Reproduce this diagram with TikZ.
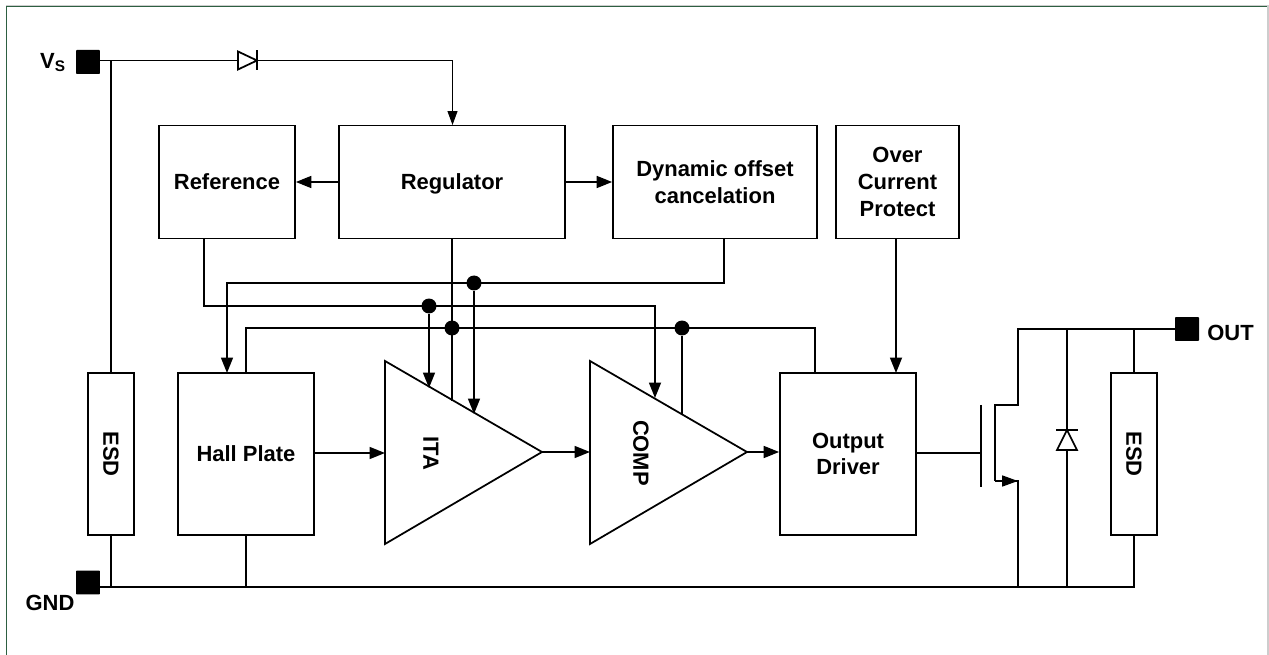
\documentclass[tikz,border=0pt]{standalone}
\usepackage{fontspec}
\setmainfont{Liberation Sans}
\usetikzlibrary{arrows.meta,positioning}
\definecolor{framegreen}{RGB}{45,95,65}
\definecolor{framegray}{RGB}{205,205,205}
\tikzset{
  wire/.style={line width=1pt},
  thinwire/.style={line width=0.6pt},
  arr/.style={-{Triangle[length=0.31cm,width=0.24cm]}},
  block/.style={draw,line width=1pt,inner sep=0pt,align=center,font=\fontsize{12.5}{15.2}\selectfont\bfseries},
  lbl/.style={inner sep=0pt,font=\fontsize{12.5}{15}\selectfont\bfseries},
  pad/.style={fill=black,rounded corners=0.5pt,minimum size=0.48cm,inner sep=0pt},
  dot/.style={circle,fill=black,minimum size=0.3cm,inner sep=0pt},
}
\begin{document}
\begin{tikzpicture}[x=0.02cm,y=-0.02cm]
  \useasboundingbox (0,0) rectangle (1269,655);
  \fill[white] (0,0) rectangle (1269,655);
  \draw[framegray,line width=0.6pt] (6,5.5) -- (1268,5.5);
  \draw[framegray,line width=1pt] (1268,5) -- (1268,655);
  \draw[framegreen,line width=0.7pt] (6.5,655) -- (6.5,6.5) -- (1267,6.5);

  % pads
  \node[pad](VS) at (88,62) {};
  \node[pad](GND) at (88,582.5) {};
  \node[pad](OUT) at (1187,329) {};
  \node[lbl] at (53,62.5) {V\textsubscript{S}};
  \node[lbl] at (50,603) {GND};
  \node[lbl,anchor=west] at (1207,333) {OUT};

  % blocks
  \node[block,minimum width=2.72cm,minimum height=2.26cm](Ref) at (227,182) {Reference};
  \node[block,minimum width=4.52cm,minimum height=2.26cm,text depth=0pt](Reg) at (452,182) {Regulator};
  \node[block,minimum width=4.08cm,minimum height=2.26cm](Dyn) at (715,182) {Dynamic offset\\cancelation};
  \node[block,minimum width=2.46cm,minimum height=2.26cm](Ocp) at (897.5,182) {Over\\Current\\Protect};
  \node[block,minimum width=2.72cm,minimum height=3.24cm](Hall) at (246,454) {Hall Plate};
  \node[block,minimum width=2.72cm,minimum height=3.24cm](Drv) at (848,454) {Output\\Driver};
  \node[block,minimum width=0.92cm,minimum height=3.24cm](EsdL) at (111,454) {};
  \node[block,minimum width=0.92cm,minimum height=3.24cm](EsdR) at (1134,454) {};
  \node[lbl,rotate=-90] at (EsdL) {ESD};
  \node[lbl,rotate=-90] at (EsdR) {ESD};

  % amplifiers
  \coordinate (ITAt) at (385,361);
  \coordinate (ITAb) at (385,544);
  \coordinate (ITAo) at (542,452);
  \coordinate (CMPt) at (590,361);
  \coordinate (CMPb) at (590,544);
  \coordinate (CMPo) at (747,452);
  \draw[wire,line join=miter] (ITAt) -- (ITAo) -- (ITAb) -- cycle;
  \draw[wire,line join=miter] (CMPt) -- (CMPo) -- (CMPb) -- cycle;
  \node[lbl,rotate=-90](ITA) at (431,453) {ITA};
  \node[lbl,rotate=-90](COMP) at (641,453) {COMP};

  % supply and diode
  \coordinate (VSn) at (111,60.5);
  \coordinate (Da) at (238,60.5);
  \coordinate (Dk) at (257,60.5);
  \coordinate (RegIn) at (452.5,60.5);
  \draw[thinwire] (VS.east |- VSn) -- (Da);
  \draw[wire] (VSn) -- (EsdL.north);
  \draw[wire] (Da) ++(0,-9) -- (Dk) -- (238,69.5) -- cycle;
  \draw[wire] (Dk) ++(0,-10) -- ++(0,20);
  \draw[wire] (Dk) -- (RegIn);
  \draw[thinwire,-{Triangle[length=0.28cm,width=0.2cm]}] (RegIn) -- (452.5,125);

  % block to block
  \coordinate (OcpOut) at (896,239);
  \draw[wire,arr] (Reg.west) -- (Ref.east);
  \draw[wire,arr] (Reg.east) -- (Dyn.west);
  \draw[wire,arr] (OcpOut) -- (896,373);
  \draw[wire,arr] (Hall.east |- 0,453) -- (ITAt |- 0,453);
  \draw[wire,arr] (ITAo) -- (CMPt |- ITAo);
  \draw[wire,arr] (CMPo) -- (Drv.west |- CMPo);

  % bus lines
  \node[dot](J1) at (474,283) {};
  \node[dot](J2) at (429,306) {};
  \node[dot](J3) at (452,328) {};
  \node[dot](J4) at (682,328) {};
  \coordinate (DynOut) at (724,239);
  \coordinate (RefOut) at (204,239);
  \coordinate (HallOut) at (246,373);
  \coordinate (DrvOut) at (815,373);
  \draw[wire,arr] (DynOut) |- (J1.center) -| (227,373);
  \draw[wire,arr] (RefOut) |- (J2.center) -| (655,398);
  \draw[wire] (HallOut) |- (J3.center) -- (J4.center) -| (DrvOut);
  \draw[wire,arr] (J1) -- (474,414);
  \draw[wire,arr] (J2) -- (429,388);
  \draw[wire] (Reg.south) -- (452,401);
  \draw[wire] (J4) -- (682,414);

  % ground
  \coordinate (GNDw) at (100,587);
  \draw[wire] (GNDw) -- (1134,587) -- (EsdR.south);
  \draw[wire] (EsdL.south) -- (111,587);
  \draw[wire] (Hall.south) -- (246,587);

  % output stage
  \coordinate (Dn) at (1018,405);
  \coordinate (Sn) at (1018,481);
  \coordinate (Ch) at (995,405);
  \coordinate (Cs) at (995,481);
  \draw[wire] (OUT.west) -- (1018,329) -- (Dn) -- (Ch) -- (Cs);
  \draw[wire] (Cs) -- (Sn) -- (1018,587);
  \draw[wire,-{Triangle[length=0.32cm,width=0.22cm]}] (Cs) -- (Sn);
  \draw[wire] (Drv.east |- 0,453) -- (981,453);
  \draw[wire] (981,405) -- (981,487);
  \draw[wire] (EsdR.north) -- (1134,329);
  \draw[wire] (1067,329) -- (1067,587);
  \filldraw[wire,fill=white] (1067,430) -- (1077,450) -- (1057,450) -- cycle;
  \draw[wire] (1056,430) -- (1078,430);
\end{tikzpicture}
\end{document}
